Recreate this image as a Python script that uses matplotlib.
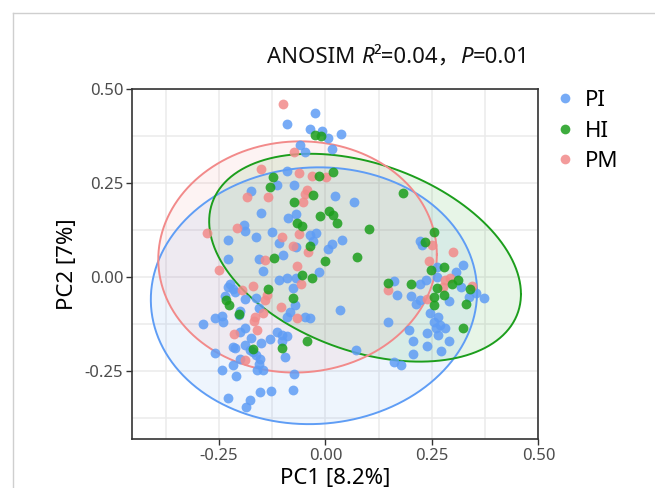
import numpy as np
import matplotlib
matplotlib.use("Agg")
import matplotlib.pyplot as plt
from matplotlib.lines import Line2D
from matplotlib.offsetbox import TextArea, HPacker, AnchoredOffsetbox
from matplotlib.ticker import MultipleLocator

plt.rcParams['font.family'] = ['Noto Sans', 'Noto Sans CJK SC', 'DejaVu Sans']

# PCoA scores
pi_x = [-0.024, -0.091, -0.036, -0.008, 0.007, 0.016, -0.059, -0.048, -0.091, -0.114,
        -0.073, -0.175, 0.022, -0.151, -0.087, -0.069, -0.192, -0.189, -0.163, -0.126,
        -0.109, -0.036, -0.023, -0.030, 0.016, 0.007, -0.228, -0.228, -0.157, -0.099,
        -0.069, 0.036, 0.066, 0.040, 0.222, 0.226, -0.146, -0.110, -0.091, -0.077,
        -0.069, -0.016, -0.224, -0.217, -0.228, -0.235, -0.212, -0.190, -0.163, -0.157,
        -0.200, -0.202, -0.071, -0.083, -0.091, -0.048, -0.036, 0.035, -0.288, -0.259,
        -0.243, -0.241, -0.190, -0.200, -0.175, -0.114, -0.102, -0.091, -0.102, -0.130,
        -0.151, -0.216, -0.212, -0.189, -0.178, -0.169, -0.163, -0.153, -0.157, -0.259,
        -0.200, -0.216, -0.095, -0.161, -0.146, -0.243, -0.210, -0.073, -0.153, -0.128,
        -0.077, -0.228, -0.177, -0.186, 0.262, 0.307, 0.323, 0.162, 0.222, 0.236,
        0.263, 0.168, 0.201, 0.221, 0.213, 0.319, 0.336, 0.354, 0.373, 0.291,
        0.148, 0.246, 0.265, 0.254, 0.269, 0.281, 0.260, 0.238, 0.264, 0.195,
        0.205, 0.238, 0.289, 0.272, 0.205, 0.072, 0.160, 0.178]
pi_y = [0.435, 0.407, 0.394, 0.388, 0.370, 0.341, 0.352, 0.334, 0.281, 0.245,
        0.244, 0.230, 0.217, 0.172, 0.157, 0.168, 0.138, 0.122, 0.106, 0.119,
        0.090, 0.113, 0.117, 0.097, 0.088, 0.074, 0.098, 0.049, 0.049, 0.059,
        0.080, 0.380, 0.200, 0.098, 0.097, 0.086, 0.016, -0.008, -0.002, -0.028,
        -0.003, 0.014, -0.017, -0.030, -0.026, -0.050, -0.039, -0.057, -0.055, -0.082,
        -0.090, -0.101, -0.074, -0.092, -0.106, -0.106, -0.108, -0.088, -0.123, -0.108,
        -0.104, -0.119, -0.136, -0.145, -0.161, -0.144, -0.152, -0.156, -0.168, -0.165,
        -0.175, -0.185, -0.188, -0.181, -0.194, -0.199, -0.207, -0.216, -0.230, -0.201,
        -0.216, -0.232, -0.212, -0.247, -0.247, -0.245, -0.261, -0.256, -0.305, -0.301,
        -0.299, -0.320, -0.327, -0.345, 0.027, 0.013, 0.032, -0.011, -0.019, -0.008,
        0.001, -0.046, -0.050, -0.059, -0.070, -0.026, -0.052, -0.043, -0.055, -0.064,
        -0.119, -0.094, -0.106, -0.119, -0.128, -0.136, -0.136, -0.147, -0.154, -0.141,
        -0.169, -0.183, -0.168, -0.196, -0.203, -0.192, -0.225, -0.234]

hi_x = [-0.024, -0.011, -0.016, 0.017, -0.123, -0.130, -0.030, -0.073, -0.012, 0.009,
        0.017, 0.027, -0.066, -0.054, -0.036, -0.002, -0.120, 0.183, 0.103, 0.256,
        0.234, 0.074, -0.055, -0.032, -0.136, -0.077, -0.234, -0.226, -0.204, -0.044,
        -0.102, -0.169, 0.148, 0.201, 0.248, 0.279, 0.312, 0.298, 0.262, 0.254,
        0.279, 0.256, 0.330, 0.340, 0.324]
hi_y = [0.377, 0.376, 0.270, 0.279, 0.267, 0.241, 0.219, 0.199, 0.164, 0.177,
        0.166, 0.144, 0.144, 0.135, 0.082, 0.043, 0.051, 0.223, 0.127, 0.120,
        0.095, 0.053, 0.005, -0.002, -0.030, -0.054, -0.061, -0.073, -0.097, -0.168,
        -0.187, -0.190, -0.015, -0.019, 0.019, 0.026, -0.008, -0.019, -0.028, -0.052,
        -0.046, -0.073, -0.070, -0.030, -0.135]

pm_x = [-0.099, -0.073, -0.152, -0.063, -0.031, 0.002, -0.044, -0.048, -0.052, -0.185,
        -0.136, -0.208, -0.278, -0.102, -0.062, -0.077, -0.040, -0.142, 0.251, 0.299,
        0.243, -0.251, -0.066, -0.169, -0.196, -0.057, -0.138, -0.142, -0.104, -0.165,
        -0.167, -0.146, -0.067, -0.161, -0.214, -0.189, 0.148, 0.281, 0.293, 0.277,
        0.344, 0.238]
pm_y = [0.460, 0.334, 0.288, 0.278, 0.268, 0.266, 0.232, 0.221, 0.201, 0.212,
        0.212, 0.130, 0.117, 0.106, 0.114, 0.084, 0.066, 0.046, 0.086, 0.066,
        0.043, 0.019, 0.029, -0.024, -0.033, -0.019, -0.048, -0.061, -0.079, -0.106,
        -0.117, -0.094, -0.108, -0.141, -0.150, -0.219, -0.033, -0.008, -0.003, -0.026,
        -0.024, -0.057]

# ellipse: centre x, centre y, half width, half height, correlation
pi_ell = [-0.027, -0.049, 0.383, 0.341, 0.03]
hi_ell = [0.093, 0.052, 0.366, 0.276, -0.35]
pm_ell = [-0.0655, 0.054, 0.327, 0.307, 0.02]

groups = ["PI", "HI", "PM"]
colors = ["#5f9df5", "#1c9e1c", "#f28a8a"]

fig = plt.figure(figsize=(6.55, 4.88), dpi=100)
ax = fig.add_axes([0.201, 0.100, 0.621, 0.7176])

# card border
fig.add_artist(Line2D([0.0198, 1.0], [0.9734, 0.9734], color="#cfcfcf", lw=1))
fig.add_artist(Line2D([0.0198, 0.0198], [0.0, 0.9734], color="#cfcfcf", lw=1))

t = np.linspace(0, 2 * np.pi, 300)
for ell, col in zip([pi_ell, hi_ell, pm_ell], colors):
    cx, cy, hx, hy, r = ell
    ex = cx + hx * np.cos(t)
    ey = cy + hy * (r * np.cos(t) + np.sqrt(1 - r * r) * np.sin(t))
    ax.fill(ex, ey, color=col, alpha=0.1, lw=0, zorder=1)
    ax.plot(ex, ey, color=col, lw=1.4, zorder=2)

ax.scatter(pi_x, pi_y, s=50, color=colors[0], alpha=0.85, lw=0, zorder=3)
ax.scatter(pm_x, pm_y, s=50, color=colors[2], alpha=0.85, lw=0, zorder=3)
ax.scatter(hi_x, hi_y, s=50, color=colors[1], alpha=0.85, lw=0, zorder=3)

ax.set_xlim(-0.455, 0.50)
ax.set_ylim(-0.43, 0.50)
ax.set_xticks([-0.25, 0.0, 0.25, 0.50])
ax.set_yticks([-0.25, 0.0, 0.25, 0.50])
ax.set_xticklabels(["-0.25", "0.00", "0.25", "0.50"])
ax.set_yticklabels(["-0.25", "0.00", "0.25", "0.50"])
ax.xaxis.set_minor_locator(MultipleLocator(0.125))
ax.yaxis.set_minor_locator(MultipleLocator(0.125))
ax.grid(True, which="both", color="#ebebeb", lw=1.1)
ax.set_axisbelow(True)
ax.tick_params(which="minor", length=0)
ax.tick_params(which="major", length=4, width=1, color="#333333",
               labelsize=12, labelcolor="#4d4d4d", pad=2)
for sp in ax.spines.values():
    sp.set_color("#333333")
    sp.set_linewidth(1.2)

ax.set_xlabel("PC1 [8.2%]", fontsize=16, labelpad=3)
ax.set_ylabel("PC2 [7%]", fontsize=16, labelpad=5)

# title with italic R and P
norm = dict(fontsize=16, color="#111111")
ital = dict(fontsize=16, color="#111111", style="italic", family="Noto Sans")
parts = [TextArea("ANOSIM ", textprops=norm), TextArea("R", textprops=ital),
         TextArea("²=0.04，", textprops=norm), TextArea("P", textprops=ital),
         TextArea("=0.01", textprops=norm)]
box = HPacker(children=parts, pad=0, sep=0, align="baseline")
title = AnchoredOffsetbox(loc="center", child=box, frameon=False, pad=0, borderpad=0,
                          bbox_to_anchor=(0.608, 0.883), bbox_transform=fig.transFigure)
fig.add_artist(title)

handles = [Line2D([], [], ls="", marker="o", ms=7, color=c, alpha=0.85, mec="none") for c in colors]
fig.legend(handles, groups, loc="upper left", bbox_to_anchor=(0.829, 0.838),
           frameon=False, fontsize=16, handlelength=1.0, handletextpad=0.4,
           labelspacing=0.42, borderpad=0)

fig.savefig("out.png", dpi=100)
